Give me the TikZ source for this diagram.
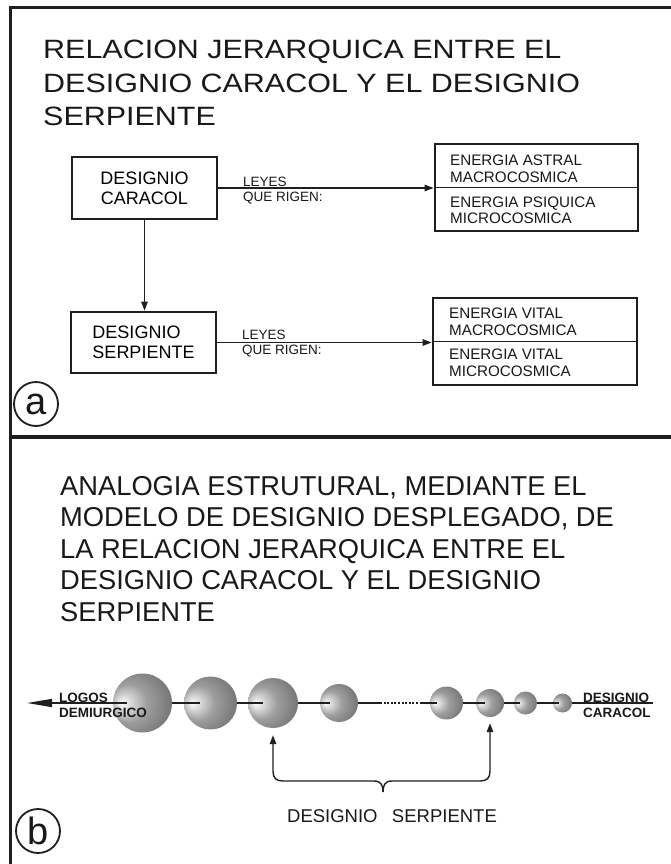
\documentclass[tikz,border=0pt]{standalone}
\usepackage{fontspec}
\setmainfont{Liberation Sans}
\newfontfamily\wideF[FakeStretch=1.15]{Liberation Sans}
\usetikzlibrary{arrows.meta}
\pgfdeclareradialshading{sph}{\pgfqpoint{-18bp}{0bp}}{color(0bp)=(white); color(4bp)=(black!10); color(16bp)=(black!38); color(30bp)=(black!52); color(50bp)=(black!70)}
\begin{document}
\begin{tikzpicture}[x=1pt,y=-1pt,
  ink/.style={draw=black!88},
  frameline/.style={ink, line width=3.5pt},
  box/.style={ink, line width=2.8pt, inner sep=0pt},
  thinrule/.style={ink, line width=1.4pt},
  conn/.style={ink, line width=1.4pt},
  tip/.style={-{Triangle[length=9pt,width=6.5pt]}},
  txt/.style={inner sep=0pt, text=black!90},
  boxfont/.style={font=\fontsize{18}{20}\selectfont},
  smallfont/.style={font=\fontsize{13.5}{15.3}\selectfont},
  rfont/.style={font=\fontsize{15.2}{16.3}\selectfont},
  boldlab/.style={txt, align=left, font=\bfseries\fontsize{13.5}{15}\selectfont},
  sphere/.style={circle, shade, shading=sph, inner sep=0pt, minimum size=#1},
  letterc/.style={circle, ink, line width=1.8pt, minimum size=44pt, inner sep=0pt, text=black!90, font=\fontsize{38}{38}\selectfont},
  chain/.style={ink, line width=1.6pt}
]
\fill[white] (0,0) rectangle (671,864);
\useasboundingbox (0,0) rectangle (671,864);

% frame
\coordinate (ftl) at (10.5,7.5);
\coordinate (ftr) at (671,7.5);
\coordinate (fbl) at (10.5,864);
\coordinate (dl) at (10.5,437);
\coordinate (dr) at (671,437);
\draw[frameline] (fbl) -- (ftl) -- (ftr);
\draw[frameline] (dl) -- (dr);

% ---------- panel a ----------
\node[txt, anchor=north west, align=left, font=\wideF\fontsize{26.5}{33.5}\selectfont] (ta) at (43,40)
  {RELACION JERARQUICA ENTRE EL\\DESIGNIO CARACOL Y EL DESIGNIO\\SERPIENTE};

\node[box, boxfont, align=center, minimum width=145pt, minimum height=62pt] (dc) at (144.5,188) {DESIGNIO\\CARACOL};
\node[box, boxfont, align=left, minimum width=145pt, minimum height=61pt] (ds) at (143.5,342.5) {DESIGNIO\\SERPIENTE};

\node[box, minimum width=203pt, minimum height=87pt] (ea) at (536.5,187.5) {};
\node[box, minimum width=204pt, minimum height=87pt] (ev) at (535,341.5) {};
\draw[thinrule] (ea.west) -- (ea.east);
\draw[thinrule] (ev.west) -- (ev.east);

\node[txt, rfont, anchor=north west, align=left] (ea1) at (450,155) {ENERGIA ASTRAL\\MACROCOSMICA};
\node[txt, rfont, anchor=north west, align=left] (ea2) at (450,196.7) {ENERGIA PSIQUICA\\MICROCOSMICA};
\node[txt, rfont, anchor=north west, align=left] (ev1) at (449,308) {ENERGIA VITAL\\MACROCOSMICA};
\node[txt, rfont, anchor=north west, align=left] (ev2) at (449,349) {ENERGIA VITAL\\MICROCOSMICA};

\draw[conn, tip] (dc.east) -- (dc.east -| ea.west);
\draw[conn, tip] (ds.east) -- (ds.east -| ev.west);
\draw[conn, tip] (dc.south) -- (dc.south |- ds.north);

\node[txt, smallfont, anchor=north west, align=left] (l1) at (243,176.7) {LEYES\\QUE RIGEN:};
\node[txt, smallfont, anchor=north west, align=left] (l2) at (242,330) {LEYES\\QUE RIGEN:};

\node[letterc] (ca) at (36,404) {a};

% ---------- panel b ----------
\node[txt, anchor=north west, align=left, font=\fontsize{27.3}{31.5}\selectfont] (tb) at (60,476)
  {ANALOGIA ESTRUTURAL, MEDIANTE EL\\MODELO DE DESIGNIO DESPLEGADO, DE\\LA RELACION JERARQUICA ENTRE EL\\DESIGNIO CARACOL Y EL DESIGNIO\\SERPIENTE};

\node[sphere=59pt] (s1) at (142.5,703) {};
\node[sphere=53pt] (s2) at (210.5,703) {};
\node[sphere=50pt] (s3) at (273,703) {};
\node[sphere=38pt] (s4) at (339,703) {};
\node[sphere=33pt] (s5) at (446.5,703) {};
\node[sphere=28pt] (s6) at (490,703) {};
\node[sphere=23pt] (s7) at (525.5,703) {};
\node[sphere=19pt] (s8) at (562.5,703) {};

\coordinate (lt) at (27,703);
\coordinate (d1) at (380,703);
\coordinate (d2) at (421,703);
\coordinate (re) at (653,703);

\draw[chain, -{Triangle[length=25pt,width=8pt]}] ([xshift=-15.5pt]s1.center) -- (lt);
\draw[chain] (s1.east) -- ([xshift=-11pt]s2.center);
\draw[chain] (s2.east) -- ([xshift=-10pt]s3.center);
\draw[chain] (s3.east) -- ([xshift=-9pt]s4.center);
\draw[chain] (s4.east) -- (d1);
\draw[chain, dash pattern=on 2pt off 1.6pt] (d1) -- (d2);
\draw[chain] (d2) -- ([xshift=-10pt]s5.center);
\draw[chain] (s5.east) -- ([xshift=-5pt]s6.center);
\draw[chain] (s6.east) -- ([xshift=-5.5pt]s7.center);
\draw[chain] (s7.east) -- ([xshift=-3.5pt]s8.center);
\draw[chain] (s8.east) -- (re);

\node[boldlab, anchor=north west] (logos) at (59,693.3) {LOGOS\\DEMIURGICO};
\node[boldlab, anchor=north west] (dcar) at (583,693) {DESIGNIO\\CARACOL};

% brace with arrows
\coordinate (bt) at (383,792);
\coordinate (a1) at ([yshift=-7pt]s3.south);
\coordinate (a2) at ([yshift=-6pt]s6.south);
\draw[conn, tip] (bt) .. controls (383,785) and (381,781) .. (374,781) -- (283,781)
  .. controls (276,781) and (273,778) .. (273,771) -- (a1);
\draw[conn, tip] (bt) .. controls (383,785) and (385,781) .. (392,781) -- (480,781)
  .. controls (487,781) and (490,778) .. (490,771) -- (a2);

\node[txt, anchor=north, font=\fontsize{18.5}{20}\selectfont] (dsl) at (392,809) {DESIGNIO\hspace{0.5em} SERPIENTE};

\node[letterc] (cb) at (38,831) {b};
\end{tikzpicture}
\end{document}
